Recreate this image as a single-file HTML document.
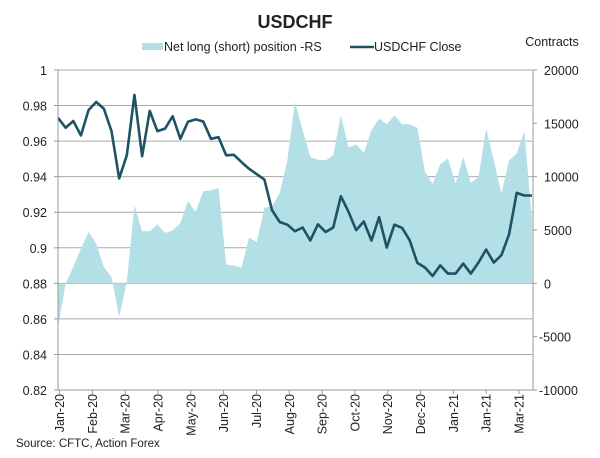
<!DOCTYPE html>
<html><head><meta charset="utf-8"><style>
body{margin:0;background:#fff;}
svg text{font-family:"Liberation Sans",Arial,sans-serif;fill:#222;}
</style></head><body>
<svg id="chart" width="600" height="453" viewBox="0 0 600 453">
<text x="295" y="28" text-anchor="middle" font-size="18" font-weight="bold" fill="#111">USDCHF</text>
<g>
<rect x="142" y="43" width="21" height="7" fill="#b3dfe6"/>
<text x="164" y="51" font-size="12.5">Net long (short) position -RS</text>
<line x1="350" y1="47" x2="374" y2="47" stroke="#1d5364" stroke-width="2.5"/>
<text x="374" y="51" font-size="12.5">USDCHF Close</text>
</g>
<text x="552" y="46" text-anchor="middle" font-size="12.5">Contracts</text>
<g id="grid"></g><g id="area"></g><g id="line"></g><g id="axes"></g>
<text x="16" y="447" font-size="11.5">Source: CFTC, Action Forex</text>
</svg>
<script>
const closeVals=[0.9731,0.9675,0.9713,0.9632,0.9775,0.982,0.9782,0.9656,0.939,0.952,0.986,0.9515,0.977,0.9656,0.967,0.974,0.9613,0.9709,0.9722,0.971,0.9613,0.9622,0.952,0.9523,0.9482,0.9444,0.9414,0.9384,0.9211,0.9145,0.913,0.9093,0.9114,0.9041,0.9132,0.9089,0.9114,0.929,0.9202,0.9099,0.9148,0.9041,0.9172,0.9001,0.913,0.9112,0.9042,0.8915,0.8889,0.8841,0.8901,0.8855,0.8855,0.8911,0.8855,0.8917,0.899,0.8917,0.8958,0.9076,0.9309,0.9294,0.9294];
const positionVals=[-4100,0,1530,3250,4810,3720,1530,590,-3160,120,7310,4900,4900,5530,4720,4970,5650,7720,6690,8650,8720,8940,1750,1660,1470,4280,3870,7100,7220,8470,11530,17000,14340,11840,11590,11530,12000,15750,12720,13030,12220,14340,15440,14910,15750,14910,14910,14590,10440,9340,11160,11690,9340,11840,9410,9970,14500,11530,8410,11530,12160,14280,5910];
const leftTicks=[1,0.98,0.96,0.94,0.92,0.9,0.88,0.86,0.84,0.82];
const leftTickLabels=["1","0.98","0.96","0.94","0.92","0.9","0.88","0.86","0.84","0.82"];
const rightTicks=[20000,15000,10000,5000,0,-5000,-10000];
const monthLabels=["Jan-20","Feb-20","Mar-20","Apr-20","May-20","Jun-20","Jul-20","Aug-20","Sep-20","Oct-20","Nov-20","Dec-20","Jan-21","Jan-21","Mar-21"];

const X0=58,X1=532,Y0=70,Y1=390,NS="http://www.w3.org/2000/svg";
const yL=v=>Y0+(1-v)/(1-0.82)*(Y1-Y0);
const yR=v=>Y0+(20000-v)/30000*(Y1-Y0);
const xI=i=>X0+i*(X1-X0)/(closeVals.length-1);
const xM=i=>59.6+i*(519-59.6)/(monthLabels.length-1);
function mk(t,a,p){const e=document.createElementNS(NS,t);for(const k in a)e.setAttribute(k,a[k]);p.appendChild(e);return e;}
const grid=document.getElementById('grid'),axes=document.getElementById('axes');
leftTicks.forEach((v,i)=>{
  const y=yL(v);
  const g=mk('line',{x1:X0,y1:y,x2:X1+1,y2:y,stroke:'#aaa','stroke-width':1},grid);
  
  
  const tk=mk('line',{x1:X0-4,y1:y,x2:X0,y2:y,stroke:'#999'},axes);
  
  
  const t=mk('text',{x:47,y:y+5,'text-anchor':'end','font-size':12.5},axes);
  t.textContent=leftTickLabels[i];
  
  
});
rightTicks.forEach(v=>{
  const y=yR(v);
  const tk=mk('line',{x1:X1+1,y1:y,x2:X1+5,y2:y,stroke:'#999'},axes);
  
  
  const t=mk('text',{x:v<0?539:544,y:y+5,'font-size':12.5},axes);
  t.textContent=String(v);
  
  
});
const la=mk('line',{x1:X0,y1:Y0,x2:X0,y2:Y1,stroke:'#999'},axes);


const ra=mk('line',{x1:X1+1,y1:Y0,x2:X1+1,y2:Y1,stroke:'#999'},axes);


const xa=mk('line',{x1:X0,y1:Y1,x2:X1+1,y2:Y1,stroke:'#999'},axes);


monthLabels.forEach((m,i)=>{
  const x=xM(i);
  const tk=mk('line',{x1:x,y1:Y1,x2:x,y2:Y1+4,stroke:'#999'},axes);
  
  
  const t=mk('text',{x:0,y:0,'text-anchor':'end','font-size':12.5,transform:`translate(${x+4.5},${Y1+4}) rotate(-90)`},axes);
  t.textContent=m;
  
  
});
const base=yR(0);
let d=`M${xI(0)},${base}`;
positionVals.forEach((v,i)=>{d+=` L${xI(i)},${yR(v)}`;});
d+=` L${xI(positionVals.length-1)},${base} Z`;
const ar=mk('path',{d:d,fill:'#b3dfe6'},document.getElementById('area'));


const pts=closeVals.map((v,i)=>`${xI(i)},${yL(v)}`).join(' ');
const ln=mk('polyline',{points:pts,fill:'none',stroke:'#1d5364','stroke-width':2.6,'stroke-linejoin':'round'},document.getElementById('line'));


</script>
</body></html>
